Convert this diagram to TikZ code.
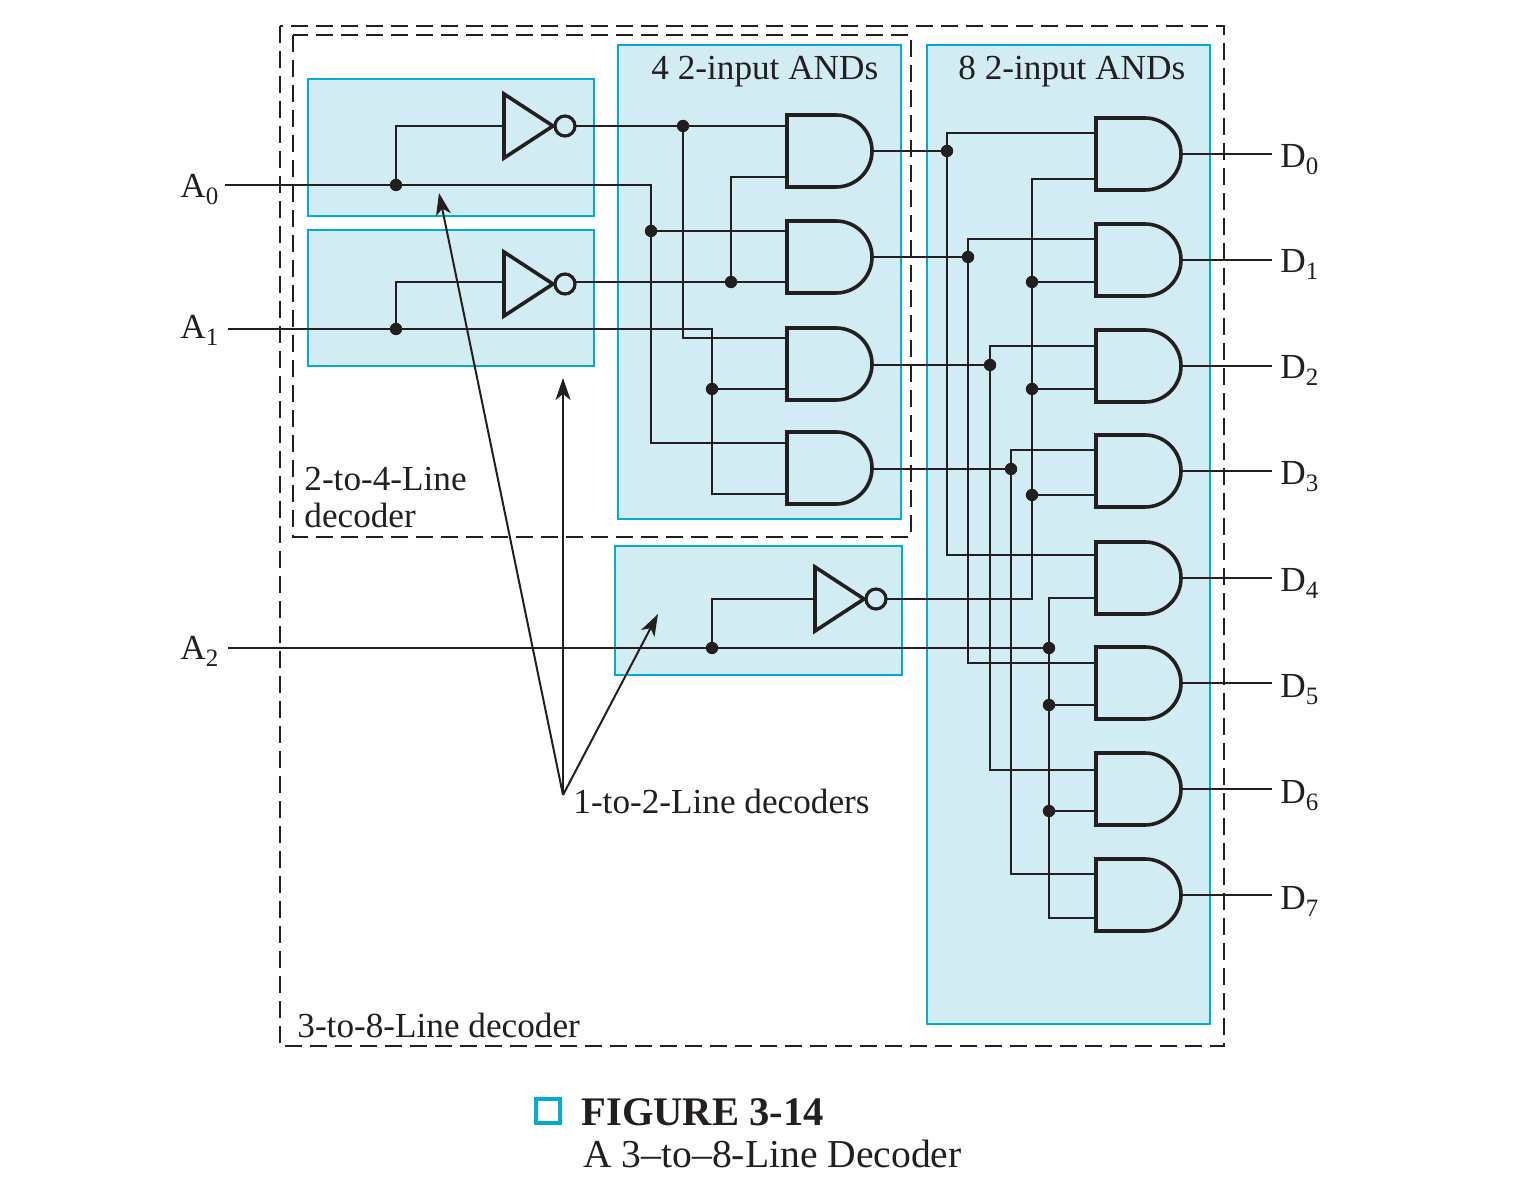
\documentclass[tikz,border=0pt]{standalone}
\usepackage{fontspec}
\setmainfont{Liberation Serif}
\usetikzlibrary{arrows.meta}
\definecolor{panel}{HTML}{D2ECF3}
\definecolor{panelline}{HTML}{00AECF}
\definecolor{ink}{HTML}{231F20}
\newcommand\subd[1]{\raisebox{-3.5pt}{\fontsize{12.5}{12.5}\selectfont #1}}
\tikzset{
  x=0.5pt,y=-0.5pt,
  panelbox/.style={draw=panelline,fill=panel,line width=1.1pt},
  dashbox/.style={draw=ink,line width=0.9pt,dash pattern=on 8.5pt off 4pt},
  wire/.style={draw=ink,line width=1pt},
  gateline/.style={draw=ink,line width=1.8pt},
  ptr/.style={draw=ink,line width=1pt,-{Stealth[length=11pt,width=7.5pt,inset=3pt]}},
  dot/.style={circle,fill=ink,inner sep=0pt,minimum size=6.2pt},
  lab/.style={inner sep=0pt,anchor=base west,text=ink,font=\fontsize{17.6}{17.6}\selectfont},
  andgate/.pic={
    \draw[gateline] (0,-36) -- (49,-36) arc[start angle=90,end angle=-90,radius=18pt] -- (0,36) -- cycle;
    \coordinate (-o) at (85,0);
  },
  invgate/.pic={
    \draw[gateline] (0,-32) -- (49,0) -- (0,32) -- cycle;
    \draw[draw=ink,line width=1.6pt] (61,0) circle[radius=5pt];
    \coordinate (-i) at (0,0);
    \coordinate (-o) at (71,0);
  }
}
\begin{document}
\begin{tikzpicture}
\useasboundingbox (0,0) rectangle (1524,1186);
% panels
\path[panelbox] (308,79) rectangle (594,216);
\path[panelbox] (308,230) rectangle (594,366);
\path[panelbox] (618,45) rectangle (901,519);
\path[panelbox] (927,45) rectangle (1210,1024);
\path[panelbox] (615,546) rectangle (902,675);
% dashed decoder boundaries
\path[dashbox] (280,26) rectangle (1224,1046);
\path[dashbox] (293,35) rectangle (911,537);
% inverters
\pic (n0) at (504,126) {invgate};
\pic (n1) at (504,284) {invgate};
\pic (n2) at (815,599) {invgate};
% first column ANDs
\pic (g0) at (787,151) {andgate};
\pic (g1) at (787,257) {andgate};
\pic (g2) at (787,364) {andgate};
\pic (g3) at (787,468) {andgate};
% second column ANDs
\pic (h0) at (1096,154) {andgate};
\pic (h1) at (1096,260) {andgate};
\pic (h2) at (1096,366) {andgate};
\pic (h3) at (1096,471) {andgate};
\pic (h4) at (1096,578) {andgate};
\pic (h5) at (1096,683) {andgate};
\pic (h6) at (1096,789) {andgate};
\pic (h7) at (1096,895) {andgate};
% gate inputs
\foreach \n/\xx/\yy in {g0a/787/126,g0b/787/177,g1a/787/231,g1b/787/282,g2a/787/338,g2b/787/389,g3a/787/443,g3b/787/494,
 h0a/1096/133,h0b/1096/179,h1a/1096/239,h1b/1096/282,h2a/1096/346,h2b/1096/389,h3a/1096/450,h3b/1096/495,
 h4a/1096/555,h4b/1096/598,h5a/1096/663,h5b/1096/705,h6a/1096/770,h6b/1096/811,h7a/1096/874,h7b/1096/918}
  {\coordinate (\n) at (\xx,\yy);}
% labels
\node[lab] (lA0) at (180,198) {A\subd{0}};
\node[lab] (lA1) at (180,339) {A\subd{1}};
\node[lab] (lA2) at (180,659) {A\subd{2}};
\foreach \i/\yy in {0/168,1/273,2/379,3/485,4/591,5/697,6/803,7/909}
  {\node[lab] (lD\i) at (1280,\yy) {D\subd{\i}};}
\node[lab] (t4) at (651,80) {4 2-input ANDs};
\node[lab] (t8) at (958,80) {8 2-input ANDs};
\node[lab] (t24a) at (304,491) {2-to-4-Line};
\node[lab] (t24b) at (304,528) {decoder};
\node[lab] (t12) at (573,813) {1-to-2-Line decoders};
\node[lab] (t38) at (297,1037) {3-to-8-Line decoder};
\node[inner sep=0pt,anchor=base west,text=ink,font=\fontsize{20.3}{20.3}\selectfont\bfseries] (figno) at (581,1125) {FIGURE 3-14};
\node[inner sep=0pt,anchor=base west,text=ink,font=\fontsize{19.8}{19.8}\selectfont] (figcap) at (583,1167) {A 3–to–8-Line Decoder};
\node[draw=panelline,line width=2pt,minimum size=12pt,inner sep=0pt] (figsq) at (547.5,1111) {};
% junctions
\node[dot] (jA0) at (396,185) {};
\node[dot] (jA1) at (396,329) {};
\node[dot] (jA2) at (712,648) {};
\node[dot] (jn0) at (683,126) {};
\node[dot] (jn1) at (731,282) {};
\node[dot] (jv0) at (651,231) {};
\node[dot] (jv1) at (712,389) {};
\node[dot] (k0) at (947,151) {};
\node[dot] (k1) at (968,257) {};
\node[dot] (k2) at (990,365) {};
\node[dot] (k3) at (1011,469) {};
\node[dot] (m1) at (1032,282) {};
\node[dot] (m2) at (1032,389) {};
\node[dot] (m3) at (1032,495) {};
\node[dot] (p0) at (1049,648) {};
\node[dot] (p1) at (1049,705) {};
\node[dot] (p2) at (1049,811) {};
% input wires
\coordinate (a0s) at (225,185);
\coordinate (a1s) at (228,329);
\coordinate (a2s) at (228,648);
\coordinate (a0t) at (651,185);
\coordinate (a1t) at (712,329);
\coordinate (n1in) at (504,282);
\coordinate (n1out) at (575,282);
\draw[wire] (a0s) -- (jA0.center) -- (a0t) |- (g3a);
\draw[wire] (jv0.center) -- (g1a);
\draw[wire] (a1s) -- (jA1.center) -- (a1t) |- (g3b);
\draw[wire] (jv1.center) -- (g2b);
\draw[wire] (a2s) -- (jA2.center) -- (p0.center);
\draw[wire] (jA0.center) |- (n0-i);
\draw[wire] (jA1.center) |- (n1in);
\draw[wire] (jA2.center) |- (n2-i);
% inverter outputs, first column
\draw[wire] (n0-o) -- (jn0.center) -- (g0a);
\draw[wire] (jn0.center) |- (g2a);
\draw[wire] (n1out) -- (jn1.center) -- (g1b);
\draw[wire] (jn1.center) |- (g0b);
% first column to second column
\draw[wire] (g0-o) -- (k0.center);
\draw[wire] (g1-o) -- (k1.center);
\draw[wire] (g2-o |- k2) -- (k2.center);
\draw[wire] (g3-o |- k3) -- (k3.center);
\draw[wire] (h0a) -| (k0.center) |- (h4a);
\draw[wire] (h1a) -| (k1.center) |- (h5a);
\draw[wire] (h2a) -| (k2.center) |- (h6a);
\draw[wire] (h3a) -| (k3.center) |- (h7a);
% A2 complement
\coordinate (cbus) at (1032,599);
\draw[wire] (n2-o) -- (cbus) |- (h0b);
\draw[wire] (m1.center) -- (h1b);
\draw[wire] (m2.center) -- (h2b);
\draw[wire] (m3.center) -- (h3b);
% A2 true
\draw[wire] (h4b) -| (p0.center) |- (h7b);
\draw[wire] (p1.center) -- (h5b);
\draw[wire] (p2.center) -- (h6b);
% outputs
\foreach \i in {0,...,7} {
  \coordinate (e\i) at (1272,0 |- h\i-o);
  \draw[wire] (h\i-o) -- (e\i);
}
% pointers
\coordinate (pf) at (563,795);
\coordinate (pt0) at (439,193);
\coordinate (pt1) at (563,378);
\coordinate (pt2) at (658,614);
\draw[ptr] (pf) -- (pt0);
\draw[ptr] (pf) -- (pt1);
\draw[ptr] (pf) -- (pt2);
\end{tikzpicture}
\end{document}
